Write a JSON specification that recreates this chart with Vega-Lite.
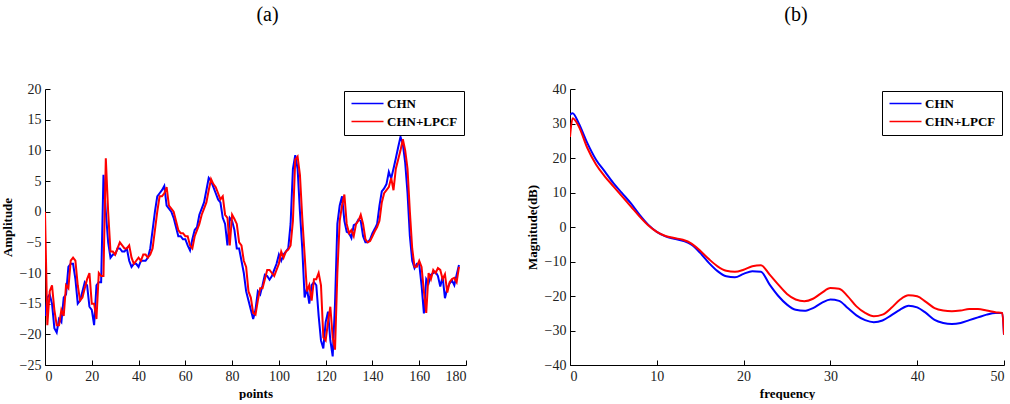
{
  "$schema": "https://vega.github.io/schema/vega-lite/v6.json",
  "background": "white",
  "padding": {"left": 1, "top": 5, "right": 0, "bottom": 0},
  "config": {
    "view": {"stroke": null},
    "font": "Liberation Serif",
    "concat": {"spacing": 59},
    "axis": {
      "grid": false,
      "domainColor": "#000000",
      "domainWidth": 1,
      "tickColor": "#000000",
      "tickSize": -5,
      "labelPadding": 9,
      "labelFont": "Liberation Serif",
      "labelFontSize": 14,
      "labelColor": "#222222",
      "titleFont": "Liberation Serif",
      "titleFontSize": 13,
      "titleFontWeight": "bold",
      "titleColor": "#000000"
    },
    "legend": {
      "orient": "top-right",
      "offset": 2,
      "fillColor": "white",
      "strokeColor": "#000000",
      "padding": 6,
      "symbolType": "M-1,0H5.4",
      "symbolSize": 100,
      "symbolStrokeWidth": 1.6,
      "labelOffset": 24,
      "labelFont": "Liberation Serif",
      "labelFontWeight": "bold",
      "labelFontSize": 13,
      "labelColor": "#000000",
      "rowPadding": 4
    },
    "title": {"font": "Liberation Serif", "fontSize": 20, "fontWeight": "normal", "color": "#000000", "offset": 57}
  },
  "resolve": {"scale": {"color": "independent"}, "legend": {"color": "independent"}},
  "datasets": {
    "a": [
      {"p":0,"CHN":-17,"CHN+LPCF":0},{"p":1,"CHN":-14,"CHN+LPCF":-18.5},{"p":2,"CHN":-13.5,"CHN+LPCF":-13},{"p":3,"CHN":-15,"CHN+LPCF":-12},{"p":4,"CHN":-19,"CHN+LPCF":-16},{"p":5,"CHN":-19.7,"CHN+LPCF":-18.5},{"p":6,"CHN":-17.5,"CHN+LPCF":-18.5},{"p":7,"CHN":-18,"CHN+LPCF":-16},{"p":8,"CHN":-14,"CHN+LPCF":-17},{"p":9,"CHN":-13.5,"CHN+LPCF":-12},
      {"p":10,"CHN":-9,"CHN+LPCF":-12.5},{"p":11,"CHN":-8.5,"CHN+LPCF":-8},{"p":12,"CHN":-8.5,"CHN+LPCF":-7.5},{"p":13,"CHN":-11,"CHN+LPCF":-8},{"p":14,"CHN":-15,"CHN+LPCF":-12},{"p":15,"CHN":-14.5,"CHN+LPCF":-14.5},{"p":16,"CHN":-13,"CHN+LPCF":-14},{"p":17,"CHN":-11.5,"CHN+LPCF":-12.5},{"p":18,"CHN":-12,"CHN+LPCF":-11},{"p":19,"CHN":-15.5,"CHN+LPCF":-10},
      {"p":20,"CHN":-16,"CHN+LPCF":-15},{"p":21,"CHN":-18.5,"CHN+LPCF":-15},{"p":22,"CHN":-12,"CHN+LPCF":-17.5},{"p":23,"CHN":-11.5,"CHN+LPCF":-10},{"p":24,"CHN":-11.5,"CHN+LPCF":-10.5},{"p":25,"CHN":6,"CHN+LPCF":-10.5},{"p":26,"CHN":0,"CHN+LPCF":8.7},{"p":27,"CHN":-5,"CHN+LPCF":0},{"p":28,"CHN":-7.5,"CHN+LPCF":-6.5},{"p":29,"CHN":-7,"CHN+LPCF":-6.5},
      {"p":30,"CHN":-7,"CHN+LPCF":-7},{"p":31,"CHN":-6,"CHN+LPCF":-6},{"p":32,"CHN":-6,"CHN+LPCF":-5},{"p":33,"CHN":-6.5,"CHN+LPCF":-5.5},{"p":34,"CHN":-6.5,"CHN+LPCF":-6},{"p":35,"CHN":-6,"CHN+LPCF":-6},{"p":36,"CHN":-8,"CHN+LPCF":-5.5},{"p":37,"CHN":-9,"CHN+LPCF":-7.5},{"p":38,"CHN":-8.5,"CHN+LPCF":-8.5},{"p":39,"CHN":-8.5,"CHN+LPCF":-8},
      {"p":40,"CHN":-9,"CHN+LPCF":-7.5},{"p":41,"CHN":-8,"CHN+LPCF":-8},{"p":42,"CHN":-8,"CHN+LPCF":-7},{"p":43,"CHN":-8,"CHN+LPCF":-7},{"p":44,"CHN":-7.5,"CHN+LPCF":-7.5},{"p":45,"CHN":-6,"CHN+LPCF":-7},{"p":46,"CHN":-3,"CHN+LPCF":-6},{"p":47,"CHN":0,"CHN+LPCF":-3},{"p":48,"CHN":2.5,"CHN+LPCF":0},{"p":49,"CHN":3,"CHN+LPCF":2.5},
      {"p":50,"CHN":3.5,"CHN+LPCF":2.5},{"p":51,"CHN":4.2,"CHN+LPCF":3},{"p":52,"CHN":1,"CHN+LPCF":4},{"p":53,"CHN":0.5,"CHN+LPCF":1},{"p":54,"CHN":0,"CHN+LPCF":0.5},{"p":55,"CHN":-1,"CHN+LPCF":0},{"p":56,"CHN":-2.5,"CHN+LPCF":-1.5},{"p":57,"CHN":-4,"CHN+LPCF":-3},{"p":58,"CHN":-4,"CHN+LPCF":-3.5},{"p":59,"CHN":-4.5,"CHN+LPCF":-3.5},
      {"p":60,"CHN":-4.5,"CHN+LPCF":-4},{"p":61,"CHN":-5.5,"CHN+LPCF":-4},{"p":62,"CHN":-6.3,"CHN+LPCF":-5.5},{"p":63,"CHN":-4.5,"CHN+LPCF":-6},{"p":64,"CHN":-3,"CHN+LPCF":-4},{"p":65,"CHN":-2.5,"CHN+LPCF":-3},{"p":66,"CHN":-0.5,"CHN+LPCF":-2},{"p":67,"CHN":0.5,"CHN+LPCF":-0.5},{"p":68,"CHN":1.5,"CHN+LPCF":0.5},{"p":69,"CHN":3.5,"CHN+LPCF":1.5},
      {"p":70,"CHN":5.5,"CHN+LPCF":3.5},{"p":71,"CHN":5,"CHN+LPCF":5.3},{"p":72,"CHN":4,"CHN+LPCF":4.5},{"p":73,"CHN":3,"CHN+LPCF":4},{"p":74,"CHN":2,"CHN+LPCF":3},{"p":75,"CHN":1.5,"CHN+LPCF":2},{"p":76,"CHN":-1,"CHN+LPCF":2.5},{"p":77,"CHN":-2,"CHN+LPCF":-0.5},{"p":78,"CHN":-5.5,"CHN+LPCF":-1},{"p":79,"CHN":-1,"CHN+LPCF":-5.5},
      {"p":80,"CHN":-1.5,"CHN+LPCF":-0.5},{"p":81,"CHN":-3,"CHN+LPCF":-1.2},{"p":82,"CHN":-6,"CHN+LPCF":-2},{"p":83,"CHN":-6,"CHN+LPCF":-5},{"p":84,"CHN":-8,"CHN+LPCF":-5.5},{"p":85,"CHN":-10,"CHN+LPCF":-8},{"p":86,"CHN":-13,"CHN+LPCF":-9},{"p":87,"CHN":-14.5,"CHN+LPCF":-13},{"p":88,"CHN":-16,"CHN+LPCF":-14},{"p":89,"CHN":-17.5,"CHN+LPCF":-16.5},
      {"p":90,"CHN":-16,"CHN+LPCF":-16.8},{"p":91,"CHN":-13,"CHN+LPCF":-14.5},{"p":92,"CHN":-13.5,"CHN+LPCF":-12.5},{"p":93,"CHN":-12,"CHN+LPCF":-12.5},{"p":94,"CHN":-10.3,"CHN+LPCF":-11},{"p":95,"CHN":-10.5,"CHN+LPCF":-9.5},{"p":96,"CHN":-11.1,"CHN+LPCF":-9.5},{"p":97,"CHN":-10.5,"CHN+LPCF":-10},{"p":98,"CHN":-9.5,"CHN+LPCF":-10.5},{"p":99,"CHN":-8.5,"CHN+LPCF":-9.5},
      {"p":100,"CHN":-7,"CHN+LPCF":-8.5},{"p":101,"CHN":-8,"CHN+LPCF":-6.5},{"p":102,"CHN":-7,"CHN+LPCF":-7.5},{"p":103,"CHN":-6.5,"CHN+LPCF":-6.5},{"p":104,"CHN":-6,"CHN+LPCF":-6.2},{"p":105,"CHN":-2,"CHN+LPCF":-5.5},{"p":106,"CHN":7,"CHN+LPCF":-1.5},{"p":107,"CHN":9.2,"CHN+LPCF":8.5},{"p":108,"CHN":7,"CHN+LPCF":9},{"p":109,"CHN":0,"CHN+LPCF":6},
      {"p":110,"CHN":-6,"CHN+LPCF":-1},{"p":111,"CHN":-14,"CHN+LPCF":-7},{"p":112,"CHN":-12.5,"CHN+LPCF":-13},{"p":113,"CHN":-15,"CHN+LPCF":-12},{"p":114,"CHN":-12,"CHN+LPCF":-14.5},{"p":115,"CHN":-11.5,"CHN+LPCF":-11},{"p":116,"CHN":-12,"CHN+LPCF":-11},{"p":117,"CHN":-17,"CHN+LPCF":-10},{"p":118,"CHN":-21,"CHN+LPCF":-12},{"p":119,"CHN":-22.3,"CHN+LPCF":-20.5},
      {"p":120,"CHN":-18,"CHN+LPCF":-21},{"p":121,"CHN":-16.3,"CHN+LPCF":-18},{"p":122,"CHN":-21,"CHN+LPCF":-15.5},{"p":123,"CHN":-23.6,"CHN+LPCF":-20.5},{"p":124,"CHN":-15,"CHN+LPCF":-22.5},{"p":125,"CHN":-2,"CHN+LPCF":-10},{"p":126,"CHN":1,"CHN+LPCF":-1.5},{"p":127,"CHN":2.5,"CHN+LPCF":1},{"p":128,"CHN":-1.5,"CHN+LPCF":2.8},{"p":129,"CHN":-3.3,"CHN+LPCF":-2},
      {"p":130,"CHN":-3.5,"CHN+LPCF":-3.5},{"p":131,"CHN":-4.3,"CHN+LPCF":-3},{"p":132,"CHN":-2.2,"CHN+LPCF":-4},{"p":133,"CHN":-2,"CHN+LPCF":-2},{"p":134,"CHN":-1.3,"CHN+LPCF":-1.5},{"p":135,"CHN":-1.5,"CHN+LPCF":-0.5},{"p":136,"CHN":-4,"CHN+LPCF":-2},{"p":137,"CHN":-5,"CHN+LPCF":-4.5},{"p":138,"CHN":-5,"CHN+LPCF":-5},{"p":139,"CHN":-4.5,"CHN+LPCF":-4.8},
      {"p":140,"CHN":-3.5,"CHN+LPCF":-4},{"p":141,"CHN":-2.8,"CHN+LPCF":-3.2},{"p":142,"CHN":-2,"CHN+LPCF":-2.5},{"p":143,"CHN":1,"CHN+LPCF":-1.5},{"p":144,"CHN":3.3,"CHN+LPCF":1.5},{"p":145,"CHN":3.8,"CHN+LPCF":3},{"p":146,"CHN":4.5,"CHN+LPCF":3.5},{"p":147,"CHN":6.5,"CHN+LPCF":4},{"p":148,"CHN":5.4,"CHN+LPCF":5.5},{"p":149,"CHN":7,"CHN+LPCF":3.5},
      {"p":150,"CHN":8.7,"CHN+LPCF":7},{"p":151,"CHN":10.5,"CHN+LPCF":8.5},{"p":152,"CHN":12.2,"CHN+LPCF":10},{"p":153,"CHN":11,"CHN+LPCF":11.8},{"p":154,"CHN":8,"CHN+LPCF":10},{"p":155,"CHN":3,"CHN+LPCF":7},{"p":156,"CHN":-4,"CHN+LPCF":0},{"p":157,"CHN":-8,"CHN+LPCF":-6},{"p":158,"CHN":-9.2,"CHN+LPCF":-9},{"p":159,"CHN":-8.5,"CHN+LPCF":-9},
      {"p":160,"CHN":-8.5,"CHN+LPCF":-8},{"p":161,"CHN":-12,"CHN+LPCF":-9},{"p":162,"CHN":-16.6,"CHN+LPCF":-13},{"p":163,"CHN":-11,"CHN+LPCF":-16.5},{"p":164,"CHN":-11.7,"CHN+LPCF":-10},{"p":165,"CHN":-10.3,"CHN+LPCF":-11},{"p":166,"CHN":-10,"CHN+LPCF":-9.5},{"p":167,"CHN":-9.8,"CHN+LPCF":-10},{"p":168,"CHN":-10.5,"CHN+LPCF":-9.2},{"p":169,"CHN":-12.2,"CHN+LPCF":-9.5},
      {"p":170,"CHN":-10.6,"CHN+LPCF":-11},{"p":171,"CHN":-14.1,"CHN+LPCF":-10.2},{"p":172,"CHN":-12.5,"CHN+LPCF":-13.2},{"p":173,"CHN":-11.7,"CHN+LPCF":-11.5},{"p":174,"CHN":-11.2,"CHN+LPCF":-11},{"p":175,"CHN":-12,"CHN+LPCF":-10.8},{"p":176,"CHN":-10.3,"CHN+LPCF":-11.5},{"p":177,"CHN":-8.7,"CHN+LPCF":-9}
    ],
    "b": [
      {"f":0,"CHN":32.5,"CHN+LPCF":26.1},{"f":0.3,"CHN":33,"CHN+LPCF":31.5},{"f":1,"CHN":30.1,"CHN+LPCF":29.2},{"f":2,"CHN":24.3,"CHN+LPCF":22.9},{"f":3,"CHN":19.5,"CHN+LPCF":18.1},{"f":4,"CHN":16.1,"CHN+LPCF":14.7},{"f":5,"CHN":12.7,"CHN+LPCF":11.8},{"f":6,"CHN":9.8,"CHN+LPCF":8.9},{"f":7,"CHN":6.9,"CHN+LPCF":6},{"f":8,"CHN":3.6,"CHN+LPCF":3.1},{"f":9,"CHN":0.7,"CHN+LPCF":0.5},
      {"f":10,"CHN":-1.4,"CHN+LPCF":-1.4},{"f":11,"CHN":-2.7,"CHN+LPCF":-2.6},{"f":12,"CHN":-3.4,"CHN+LPCF":-3.2},{"f":13,"CHN":-4,"CHN+LPCF":-3.7},{"f":14,"CHN":-5.1,"CHN+LPCF":-4.8},{"f":15,"CHN":-7.5,"CHN+LPCF":-6.9},{"f":16,"CHN":-10.4,"CHN+LPCF":-9.3},{"f":17,"CHN":-12.8,"CHN+LPCF":-11.4},{"f":18,"CHN":-14.3,"CHN+LPCF":-12.7},{"f":19,"CHN":-14.6,"CHN+LPCF":-13},
      {"f":20,"CHN":-13.6,"CHN+LPCF":-12.4},{"f":21,"CHN":-12.8,"CHN+LPCF":-11.4},{"f":22,"CHN":-13,"CHN+LPCF":-11.1},{"f":23,"CHN":-16.7,"CHN+LPCF":-13.8},{"f":24,"CHN":-20,"CHN+LPCF":-16.7},{"f":25,"CHN":-22.5,"CHN+LPCF":-19.4},{"f":26,"CHN":-24,"CHN+LPCF":-21},{"f":27,"CHN":-24.3,"CHN+LPCF":-21.5},{"f":28,"CHN":-23.5,"CHN+LPCF":-20.8},{"f":29,"CHN":-22,"CHN+LPCF":-19.1},
      {"f":30,"CHN":-21,"CHN+LPCF":-17.7},{"f":31,"CHN":-21.4,"CHN+LPCF":-17.9},{"f":32,"CHN":-23.5,"CHN+LPCF":-20.1},{"f":33,"CHN":-25.6,"CHN+LPCF":-23},{"f":34,"CHN":-27,"CHN+LPCF":-24.9},{"f":35,"CHN":-27.6,"CHN+LPCF":-25.9},{"f":36,"CHN":-27.1,"CHN+LPCF":-25.4},{"f":37,"CHN":-25.6,"CHN+LPCF":-23.5},{"f":38,"CHN":-24,"CHN+LPCF":-21.1},{"f":39,"CHN":-22.8,"CHN+LPCF":-19.8},
      {"f":40,"CHN":-23.3,"CHN+LPCF":-20.1},{"f":41,"CHN":-24.9,"CHN+LPCF":-21.7},{"f":42,"CHN":-26.9,"CHN+LPCF":-23.5},{"f":43,"CHN":-27.8,"CHN+LPCF":-24.2},{"f":44,"CHN":-28.1,"CHN+LPCF":-24.4},{"f":45,"CHN":-27.8,"CHN+LPCF":-24.2},{"f":46,"CHN":-27,"CHN+LPCF":-23.8},{"f":47,"CHN":-26.2,"CHN+LPCF":-23.8},{"f":48,"CHN":-25.4,"CHN+LPCF":-24.2},{"f":49,"CHN":-24.9,"CHN+LPCF":-24.7},
      {"f":49.8,"CHN":-24.9,"CHN+LPCF":-24.9},{"f":50,"CHN":-31.2,"CHN+LPCF":-31.2}
    ]
  },
  "hconcat": [
    {
      "title": {"text": "(a)", "dx": 12},
      "width": 421,
      "height": 276,
      "data": {"name": "a"},
      "transform": [{"fold": ["CHN", "CHN+LPCF"], "as": ["series", "value"]}],
      "mark": {"type": "line", "strokeWidth": 2, "clip": true},
      "encoding": {
        "x": {"field": "p", "type": "quantitative", "title": "points",
              "scale": {"domain": [0, 180], "nice": false},
              "axis": {"values": [0, 20, 40, 60, 80, 100, 120, 140, 160, 180], "titlePadding": 4}},
        "y": {"field": "value", "type": "quantitative", "title": "Amplitude",
              "scale": {"domain": [-25, 20], "nice": false},
              "axis": {"values": [-25, -20, -15, -10, -5, 0, 5, 10, 15, 20], "titlePadding": 5}},
        "color": {"field": "series", "type": "nominal",
                  "scale": {"domain": ["CHN", "CHN+LPCF"], "range": ["#0000ff", "#ff0000"]},
                  "legend": {"title": null}}
      }
    },
    {
      "title": {"text": "(b)", "dx": 9},
      "width": 434,
      "height": 276,
      "data": {"name": "b"},
      "transform": [{"fold": ["CHN", "CHN+LPCF"], "as": ["series", "value"]}],
      "mark": {"type": "line", "strokeWidth": 2, "interpolate": "monotone", "clip": true},
      "encoding": {
        "x": {"field": "f", "type": "quantitative", "title": "frequency",
              "scale": {"domain": [0, 50], "nice": false},
              "axis": {"values": [0, 10, 20, 30, 40, 50], "titlePadding": 4}},
        "y": {"field": "value", "type": "quantitative", "title": "Magnitude(dB)",
              "scale": {"domain": [-40, 40], "nice": false},
              "axis": {"values": [-40, -30, -20, -10, 0, 10, 20, 30, 40], "titlePadding": 5}},
        "color": {"field": "series", "type": "nominal",
                  "scale": {"domain": ["CHN", "CHN+LPCF"], "range": ["#0000ff", "#ff0000"]},
                  "legend": {"title": null}}
      }
    }
  ]
}
